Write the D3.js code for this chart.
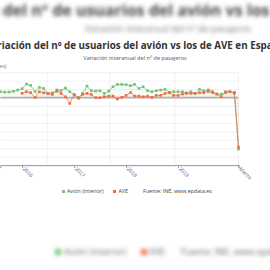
<!DOCTYPE html>
<html><head><meta charset="utf-8">
<script src="https://cdn.jsdelivr.net/npm/d3@7"></script>
<style>
html,body{margin:0;padding:0;background:#fff;overflow:hidden;}
svg{display:block;font-family:"Open Sans",sans-serif;}
</style></head>
<body>
<svg id="c" width="270" height="270"></svg>
<script>
const title = "Variación del nº de usuarios del avión vs los de AVE en España";
const subtitle = "Variación interanual del nº de pasajeros";
const yLabel = "(porcentajes)";
const months = ["2015-08","2015-09","2015-10","2015-11","2015-12",
"2016-01","2016-02","2016-03","2016-04","2016-05","2016-06","2016-07","2016-08","2016-09","2016-10","2016-11","2016-12",
"2017-01","2017-02","2017-03","2017-04","2017-05","2017-06","2017-07","2017-08","2017-09","2017-10","2017-11","2017-12",
"2018-01","2018-02","2018-03","2018-04","2018-05","2018-06","2018-07","2018-08","2018-09","2018-10","2018-11","2018-12",
"2019-01","2019-02","2019-03","2019-04","2019-05","2019-06","2019-07","2019-08","2019-09","2019-10","2019-11","2019-12",
"2020-01","2020-02","2020-03"];
const avion = [6.9,6.5,6.5,7.3,8.9,
10.5,16,14.4,7,12,10.8,5,5.7,7.3,8.5,11.2,6.9,
3.7,0.2,4.9,13.6,8.1,7.7,8.1,4.9,7.7,12.8,15.6,15.6,
15.2,14,15.6,10.8,12.8,8.1,6.9,8.1,8.9,9.7,6.1,6.9,
6.9,6.9,5.7,6.9,4.9,9.7,8.1,6.9,5.7,4.1,4.1,5.7,
6.9,4.9,-61];
const ave = [null,null,null,null,null,
5,7,5.7,0.2,6.9,5.7,4.9,3.7,8.9,4.9,0.9,-7,
3,-0.8,3.7,4.9,3.7,-0.2,-0.2,0.9,1.7,1.7,-1.8,0.2,
2.5,6,1.7,1.7,0.9,1.7,0.2,2.5,2.5,4.9,5.7,2.5,
2.5,4.1,4.9,4.9,4.9,5.7,5.7,8.9,6.9,4.1,0.9,6.9,
6.9,6.1,-58.6];
const xTicks = ["2016-01","2017-01","2018-01","2019-01","2020-03"];
const xTickLabels = ["2016","2017","2018","2019","Marzo"];
const yTicks = [30,20,10,0,-10,-20,-30,-40,-50,-60,-70,-80];
const vGrid = ["2016-06-25","2017-09-10","2018-12-10","2020-03-01"];
const seriesNames = ["Avión (interior)","AVE"];
const source = "Fuente: INE, www.epdata.es";
const colors = ["#74c374","#f26a4b"];

const parseM = d3.timeParse("%Y-%m");
const parseD = d3.timeParse("%Y-%m-%d");
const svg = d3.select("#c");

// blurred background copy
const defs = svg.append("defs");
defs.append("filter").attr("id","blur").attr("x","-20%").attr("y","-50%").attr("width","140%").attr("height","200%")
  .append("feGaussianBlur").attr("stdDeviation",2.1);
const bg = svg.append("g").attr("filter","url(#blur)");
bg.append("text").attr("x",168).attr("y",16).attr("text-anchor","middle")
  .attr("font-size",16).attr("font-weight","bold").attr("fill","#444").text(title);
bg.append("text").attr("x",168).attr("y",32).attr("text-anchor","middle")
  .attr("font-size",9).attr("fill","#777").text(subtitle);
const bgl = bg.append("g").attr("font-size",9).attr("fill","#666");
bgl.append("rect").attr("x",55).attr("y",249).attr("width",6).attr("height",6).attr("fill",colors[0]);
bgl.append("text").attr("x",64).attr("y",255).text(seriesNames[0]);
bgl.append("rect").attr("x",141).attr("y",249).attr("width",6).attr("height",6).attr("fill",colors[1]);
bgl.append("text").attr("x",149).attr("y",255).text(seriesNames[1]);
bgl.append("text").attr("x",181).attr("y",255).text(source);

// sharp chart
svg.append("text").attr("x",135).attr("y",49).attr("text-anchor","middle")
  .attr("font-size",9.8).attr("font-weight","bold").attr("fill","#333").text(title);
svg.append("text").attr("x",135).attr("y",60).attr("text-anchor","middle")
  .attr("font-size",5.6).attr("fill","#555").text(subtitle);
svg.append("text").attr("x",6.5).attr("y",68).attr("text-anchor","end")
  .attr("font-size",5).attr("fill","#777").text(yLabel);

const x = d3.scaleTime().domain([parseM("2015-08"), parseM("2020-03")]).range([0.35, 238.5]);
const y = d3.scaleLinear().domain([-80, 30]).range([165.1, 72.2]);

// horizontal grid
const gy = svg.append("g").attr("transform","translate(0.35,0)")
  .call(d3.axisLeft(y).tickValues(yTicks).tickSize(-238.15).tickFormat(d=>d));
gy.select(".domain").remove();
gy.selectAll("line").attr("stroke","#ececec").attr("stroke-width",0.8);
gy.selectAll("text").attr("font-size",5).attr("fill","#777");

// vertical grid
svg.append("g").selectAll("line").data(vGrid).join("line")
  .attr("x1",d=>x(parseD(d))).attr("x2",d=>x(parseD(d)))
  .attr("y1",y(30)).attr("y2",y(-80)).attr("stroke","#ececec").attr("stroke-width",0.8);

// zero line
svg.append("line").attr("x1",x.range()[0]).attr("x2",x.range()[1])
  .attr("y1",y(0)).attr("y2",y(0)).attr("stroke","#b4b4b4").attr("stroke-width",1.8);

// x axis
const gx = svg.append("g").attr("transform",`translate(0,${y(-80)})`)
  .call(d3.axisBottom(x).tickValues(xTicks.map(parseM)).tickSize(3)
    .tickFormat((d,i)=>xTickLabels[i]));
gx.select(".domain").attr("stroke","#999");
gx.selectAll("line").attr("stroke","#999");
gx.selectAll("text").attr("font-size",5.4).attr("fill","#777")
  .attr("text-anchor","start").attr("transform","translate(1,3) rotate(45)").attr("dy","0.3em").attr("y",0).attr("x",0);

const series = [avion, ave];
series.forEach((vals,k)=>{
  const pts = months.map((m,i)=>({d:parseM(m), v:vals[i]})).filter(p=>p.v!==null);
  svg.append("path").datum(pts)
    .attr("d", d3.area().x(p=>x(p.d)).y0(y(0)).y1(p=>y(p.v)))
    .attr("fill", colors[k]).attr("fill-opacity",0.06);
  svg.append("path").datum(pts)
    .attr("d", d3.line().x(p=>x(p.d)).y(p=>y(p.v)))
    .attr("fill","none").attr("stroke",colors[k]).attr("stroke-width",0.9).attr("stroke-opacity",0.85);
  svg.append("g").selectAll("rect").data(pts).join("rect")
    .attr("x",p=>x(p.d)-1.3).attr("y",p=>y(p.v)-1.3).attr("width",2.6).attr("height",2.6)
    .attr("fill",colors[k]);
});

// legend
const lg = svg.append("g").attr("font-size",5.3).attr("fill","#444");
lg.append("rect").attr("x",62).attr("y",190).attr("width",3).attr("height",3).attr("fill",colors[0]);
lg.append("text").attr("x",67).attr("y",193.3).text(seriesNames[0]);
lg.append("rect").attr("x",113).attr("y",190).attr("width",3).attr("height",3).attr("fill",colors[1]);
lg.append("text").attr("x",118.5).attr("y",193.3).text(seriesNames[1]);
lg.append("text").attr("x",143).attr("y",193.3).text(source);
</script>
</body></html>
